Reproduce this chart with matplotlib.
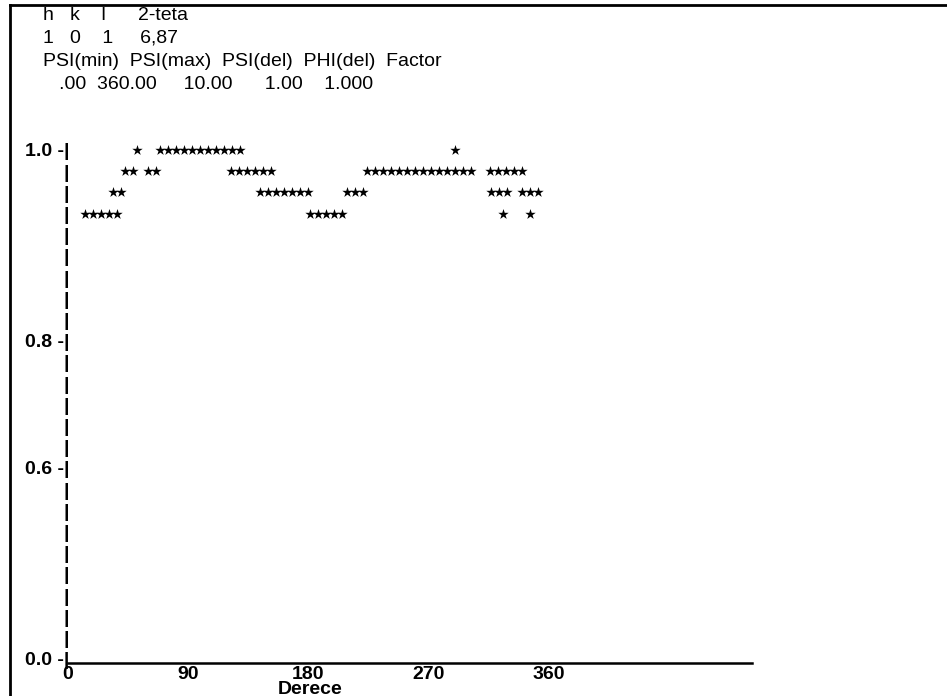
import numpy as np
import matplotlib.pyplot as plt
from matplotlib.lines import Line2D

plt.rcParams["font.family"] = ["Liberation Sans", "DejaVu Sans"]

# header block of the text report
header = [
    "h   k    l      2-teta",
    "1   0    1     6,87",
    "PSI(min)  PSI(max)  PSI(del)  PHI(del)  Factor",
    "   .00  360.00     10.00      1.00    1.000",
]

# star positions (degrees) per text row, top row first
row_values = [1.0, 0.978, 0.956, 0.933]
row0_deg = [52, 69, 75, 81, 87, 93, 99, 105, 111, 117, 123, 129, 290]
row1_deg = [43, 49, 60, 66, 122, 128, 134, 140, 146, 152,
            224, 230, 236, 242, 248, 254, 260, 266, 272, 278, 284, 290, 296, 302,
            316, 322, 328, 334, 340]
row2_deg = [34, 40, 144, 150, 156, 162, 168, 174, 180, 209, 215, 221,
            317, 323, 329, 340, 346, 352]
row3_deg = [13, 19, 25, 31, 37, 181, 187, 193, 199, 205, 326, 346]
star_rows = [row0_deg, row1_deg, row2_deg, row3_deg]

# y axis of the text plot: labelled values and their text rows
y_label_vals = [0.0, 0.6, 0.8, 1.0]
x_ticks = [0, 90, 180, 270, 360]


def fwd(v):
    return np.interp(v, [-1.0, 0.0, 0.6, 0.8, 1.0, 2.0], [-15, 0, 9, 15, 24, 69])


def inv(r):
    return np.interp(r, [-15, 0, 9, 15, 24, 69], [-1.0, 0.0, 0.6, 0.8, 1.0, 2.0])


fig = plt.figure(figsize=(9.47, 6.96), dpi=100)
W, H = 947, 696

# frame lines (top and left)
fig.add_artist(Line2D([10 / W, 10 / W], [0, 1 - 5 / H], color="black", lw=2))
fig.add_artist(Line2D([10 / W, 1], [1 - 5 / H, 1 - 5 / H], color="black", lw=2))

for i, line in enumerate(header):
    fig.text(43 / W, 1 - (15 + 23.3 * i) / H, line, fontsize=14,
             ha="left", va="center")

ax_left, ax_right = 68, 752
ax_top, ax_bottom = 150, 663
row_px = 21.2
ax = fig.add_axes([ax_left / W, 1 - ax_bottom / H,
                   (ax_right - ax_left) / W, (ax_bottom - ax_top) / H])
ax.set_yscale("function", functions=(fwd, inv))
ax.set_xlim(0, (ax_right - ax_left) / 1.335)
ax.set_ylim(inv(24 - (ax_bottom - ax_top) / row_px), 1.0)

for val, degs in zip(row_values, star_rows):
    ax.scatter(degs, [val] * len(degs), marker="*", s=62, color="black",
               linewidths=0, clip_on=False)

# every text row gets a "|" on the y axis
rows = np.arange(25)
tick_vals = inv(24 - rows)
tick_labels = []
for v in tick_vals:
    lab = "|"
    for lv in y_label_vals:
        if abs(v - lv) < 1e-6:
            lab = f"{lv:.1f} -|"
    tick_labels.append(lab)
ax.set_yticks(tick_vals)
ax.set_yticklabels(tick_labels, fontsize=14, fontweight="bold")
ax.tick_params(axis="y", length=0, pad=-1)

ax.set_xticks(x_ticks)
ax.set_xticklabels([str(t) for t in x_ticks], fontsize=14, fontweight="bold")
ax.tick_params(axis="x", length=0, pad=2.5)
ax.set_xlabel("Derece", fontsize=14, fontweight="bold")
ax.xaxis.set_label_coords((310 - ax_left) / (ax_right - ax_left),
                          -(689 - ax_bottom) / (ax_bottom - ax_top))
ax.xaxis.label.set_va("center")

for s in ["top", "right", "left"]:
    ax.spines[s].set_visible(False)
ax.spines["bottom"].set_linewidth(1.8)
ax.set_facecolor("none")

fig.savefig("out.png", dpi=100)
